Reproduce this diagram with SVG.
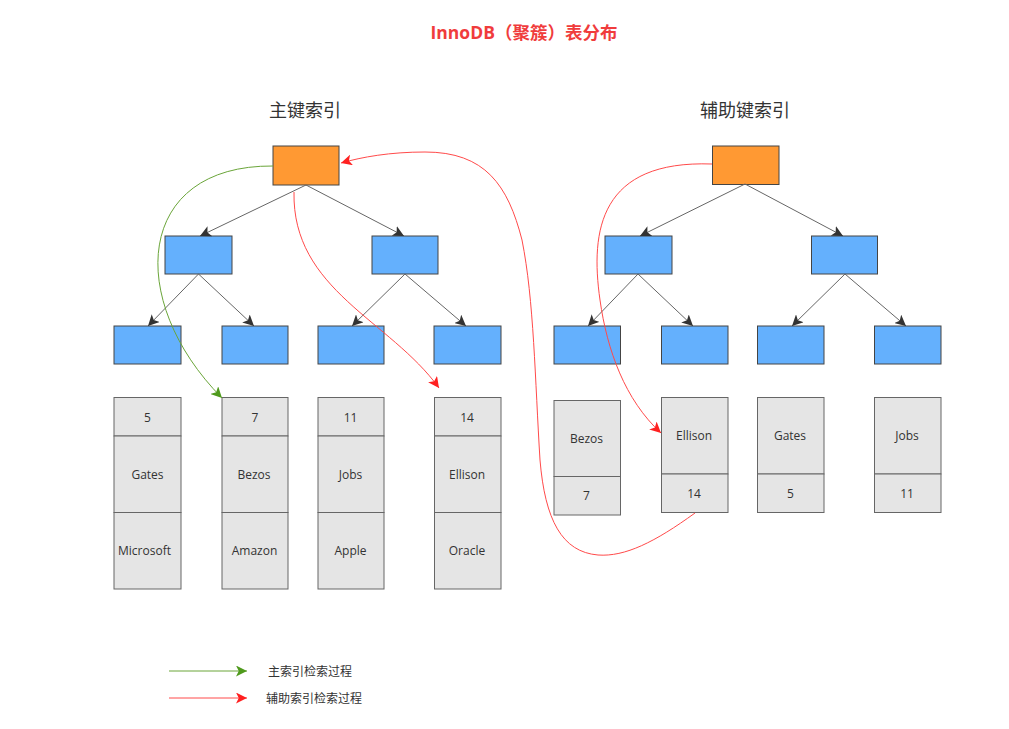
<svg xmlns="http://www.w3.org/2000/svg" width="1009" height="729" viewBox="0 0 1009 729">
<style>
text{font-family:"Open Sans","Noto Sans CJK SC",sans-serif;fill:#333;text-anchor:middle;dominant-baseline:central}
.t{font-size:12px}
.h{font-size:18px;fill:#333}
.title{font-size:17.5px;font-weight:bold;fill:#f03c3c}
.lg{font-size:12px;text-anchor:start}
.root{fill:#ff9933;stroke:#444;stroke-width:1}
.nd{fill:#64b0fd;stroke:#444;stroke-width:1}
.dt{fill:#e5e5e5;stroke:#666;stroke-width:1}
.e{stroke:#666;stroke-width:1;fill:none;marker-end:url(#ag)}
.g{stroke:#6aa539;stroke-width:1;fill:none;marker-end:url(#agr)}
.r{stroke:#ff4a4a;stroke-width:1;fill:none;marker-end:url(#ar)}
</style>
<defs>
<marker id="ag" viewBox="0 0 10 10" refX="10" refY="5" markerWidth="11" markerHeight="11" markerUnits="userSpaceOnUse" orient="auto"><path d="M0,0 L10,5 L0,10 L2.5,5 z" fill="#333"/></marker>
<marker id="agr" viewBox="0 0 10 10" refX="10" refY="5" markerWidth="11" markerHeight="11" markerUnits="userSpaceOnUse" orient="auto"><path d="M0,0 L10,5 L0,10 L2.5,5 z" fill="#4f9a1c"/></marker>
<marker id="ar" viewBox="0 0 10 10" refX="10" refY="5" markerWidth="11" markerHeight="11" markerUnits="userSpaceOnUse" orient="auto"><path d="M0,0 L10,5 L0,10 L2.5,5 z" fill="#ff2020"/></marker>
</defs>
<rect width="1009" height="729" fill="#fff"/>
<text class="title" x="524" y="32">InnoDB（聚簇）表分布</text>
<text class="h" x="305" y="110">主键索引</text>
<text class="h" x="745" y="110">辅助键索引</text>

<g id="pk-root"><rect class="root" x="273" y="146" width="66" height="39"/></g>
<g id="pk-l2a"><rect class="nd" x="165" y="236" width="67" height="38"/></g>
<g id="pk-l2b"><rect class="nd" x="372" y="236" width="66" height="38"/></g>
<g id="pk-l3a"><rect class="nd" x="114" y="326" width="67" height="38"/></g>
<g id="pk-l3b"><rect class="nd" x="222" y="326" width="66" height="38"/></g>
<g id="pk-l3c"><rect class="nd" x="318" y="326" width="66" height="38"/></g>
<g id="pk-l3d"><rect class="nd" x="434" y="326" width="67" height="38"/></g>

<g id="sk-root"><rect class="root" x="712.5" y="146" width="66.5" height="38.5"/></g>
<g id="sk-l2a"><rect class="nd" x="605" y="236" width="67" height="38"/></g>
<g id="sk-l2b"><rect class="nd" x="811.5" y="236" width="66" height="38"/></g>
<g id="sk-l3a"><rect class="nd" x="554" y="326" width="66.5" height="38"/></g>
<g id="sk-l3b"><rect class="nd" x="661.5" y="326" width="66.5" height="38"/></g>
<g id="sk-l3c"><rect class="nd" x="757.5" y="326" width="66.5" height="38"/></g>
<g id="sk-l3d"><rect class="nd" x="874.5" y="326" width="66.5" height="38"/></g>

<g id="pk-row5">
<rect class="dt" x="114" y="397.5" width="67" height="38.5"/><rect class="dt" x="114" y="436" width="67" height="76.5"/><rect class="dt" x="114" y="512.5" width="67" height="76.5"/>
<text class="t" x="147.5" y="417">5</text><text class="t" x="147.5" y="474">Gates</text><text class="t" x="144.5" y="550.5">Microsoft</text>
</g>
<g id="pk-row7">
<rect class="dt" x="222" y="397.5" width="66" height="38.5"/><rect class="dt" x="222" y="436" width="66" height="76.5"/><rect class="dt" x="222" y="512.5" width="66" height="76.5"/>
<text class="t" x="255" y="417">7</text><text class="t" x="254" y="474">Bezos</text><text class="t" x="254.5" y="550.5">Amazon</text>
</g>
<g id="pk-row11">
<rect class="dt" x="318" y="397.5" width="66" height="38.5"/><rect class="dt" x="318" y="436" width="66" height="76.5"/><rect class="dt" x="318" y="512.5" width="66" height="76.5"/>
<text class="t" x="350.5" y="417">11</text><text class="t" x="350.5" y="474">Jobs</text><text class="t" x="350.5" y="550.5">Apple</text>
</g>
<g id="pk-row14">
<rect class="dt" x="434.5" y="397.5" width="66.5" height="38.5"/><rect class="dt" x="434.5" y="436" width="66.5" height="76.5"/><rect class="dt" x="434.5" y="512.5" width="66.5" height="76.5"/>
<text class="t" x="467" y="417">14</text><text class="t" x="467" y="474">Ellison</text><text class="t" x="467" y="550.5">Oracle</text>
</g>

<g id="sk-bezos">
<rect class="dt" x="554" y="400.5" width="66.5" height="76"/><rect class="dt" x="554" y="476.5" width="66.5" height="38.5"/>
<text class="t" x="586.5" y="438">Bezos</text><text class="t" x="586.5" y="495.5">7</text>
</g>
<g id="sk-ellison">
<rect class="dt" x="661.5" y="397.5" width="66.5" height="76.5"/><rect class="dt" x="661.5" y="474" width="66.5" height="38.5"/>
<text class="t" x="694" y="435.5">Ellison</text><text class="t" x="694" y="493">14</text>
</g>
<g id="sk-gates">
<rect class="dt" x="757.5" y="397.5" width="66.5" height="76.5"/><rect class="dt" x="757.5" y="474" width="66.5" height="38.5"/>
<text class="t" x="790" y="435.5">Gates</text><text class="t" x="790.5" y="493">5</text>
</g>
<g id="sk-jobs">
<rect class="dt" x="874.5" y="397.5" width="66.5" height="76.5"/><rect class="dt" x="874.5" y="474" width="66.5" height="38.5"/>
<text class="t" x="907" y="435.5">Jobs</text><text class="t" x="907" y="493">11</text>
</g>

<g id="connectors">
<path class="e" d="M306,185 L200,236"/>
<path class="e" d="M306,185 L404,236"/>
<path class="e" d="M198.5,274 L148,326"/>
<path class="e" d="M198.5,274 L254,326"/>
<path class="e" d="M405,274 L352,326"/>
<path class="e" d="M405,274 L466,326"/>
<path class="e" d="M745,184 L640,236"/>
<path class="e" d="M745,184 L843,236"/>
<path class="e" d="M638,274 L588,326"/>
<path class="e" d="M638,274 L693,326"/>
<path class="e" d="M845,274 L792,326"/>
<path class="e" d="M845,274 L906,326"/>
<path class="g" d="M273,166 C135,165 125,300 222,398"/>
<path class="r" d="M294,192 C292,290 390,320 439,388"/>
<path class="r" d="M695,513 C655,542 625,557 598,555 C562,552 545,520 540,460 C535,380 534,300 522,240 C508,185 485,152 425,152 C390,152 362,157 341,163"/>
<path class="r" d="M712,164 C600,160 590,230 600,300 C607,350 625,400 661,433"/>
<path class="g" d="M169,671 L247,671"/>
<path class="r" d="M169,698 L247,698"/>
</g>

<g id="legend">
<text class="lg" x="268" y="671">主索引检索过程</text>
<text class="lg" x="266" y="698">辅助索引检索过程</text>
</g>
</svg>
